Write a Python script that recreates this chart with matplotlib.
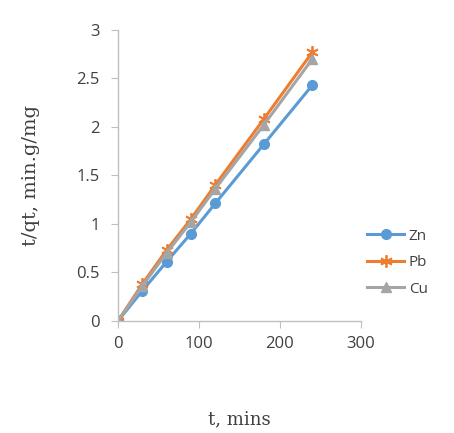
import numpy as np
import matplotlib.pyplot as plt

t = [0, 30, 60, 90, 120, 180, 240]
zn = [0, 0.31, 0.61, 0.90, 1.21, 1.82, 2.43]
pb = [0, 0.38, 0.73, 1.05, 1.40, 2.08, 2.77]
cu = [0, 0.36, 0.70, 1.02, 1.36, 2.02, 2.70]

fig = plt.figure(figsize=(4.54, 4.33), dpi=100)
ax = fig.add_axes([0.26, 0.259, 0.535, 0.672])

ax.plot(t, zn, color='#5B9BD5', lw=2.2, marker='o', ms=7, label='Zn')
ax.plot(t, pb, color='#ED7D31', lw=2.2, marker=(6, 2, 0), ms=9, mew=1.3, label='Pb')
ax.plot(t, cu, color='#A5A5A5', lw=2.2, marker='^', ms=7, label='Cu')

ax.set_xlim(0, 300)
ax.set_ylim(0, 3)
ax.set_xticks([0, 100, 200, 300])
ax.set_yticks([0, 0.5, 1, 1.5, 2, 2.5, 3])
ax.set_yticklabels(['0', '0.5', '1', '1.5', '2', '2.5', '3'])

for s in ['top', 'right']:
    ax.spines[s].set_visible(False)
for s in ['left', 'bottom']:
    ax.spines[s].set_color('#BFBFBF')
    ax.spines[s].set_linewidth(1)
ax.tick_params(colors='#BFBFBF', length=5, labelcolor='#404040', labelsize=12)
for lab in ax.get_xticklabels() + ax.get_yticklabels():
    lab.set_family('Open Sans')
ax.tick_params(axis='y', pad=8)
ax.tick_params(axis='x', pad=6)

ax.set_xlabel('t, mins', family='DejaVu Serif', fontsize=13, color='#404040', labelpad=42)
ax.set_ylabel('t/qt, min.g/mg', family='DejaVu Serif', fontsize=14, color='#404040', labelpad=26)

leg = ax.legend(loc='center left', bbox_to_anchor=(0.97, 0.2), frameon=False,
                fontsize=11, handlelength=2.4, labelspacing=0.75, handletextpad=0.3)
for txt in leg.get_texts():
    txt.set_color('#404040')
    txt.set_family('Open Sans')

fig.savefig('out.png', dpi=100)
